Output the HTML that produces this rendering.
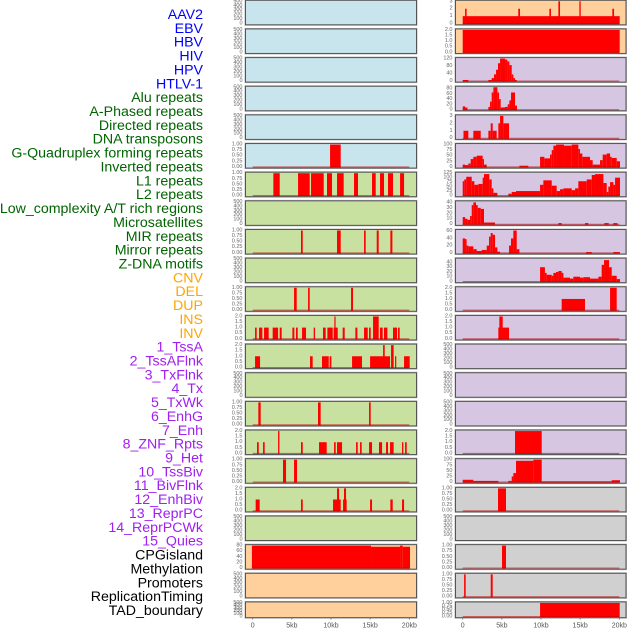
<!DOCTYPE html>
<html><head><meta charset="utf-8"><style>
html,body{margin:0;padding:0;background:#fff;width:630px;height:630px;overflow:hidden}
svg{display:block;font-family:"Liberation Sans",sans-serif}
</style></head><body>
<svg id="chart" width="630" height="630" viewBox="0 0 630 630"></svg>
<script>
// ---- data (segments: [startKb, endKb, value]) ----
const labelNames = ["AAV2","EBV","HBV","HIV","HPV","HTLV-1","Alu repeats","A-Phased repeats","Directed repeats","DNA transposons","G-Quadruplex forming repeats","Inverted repeats","L1 repeats","L2 repeats","Low_complexity A/T rich regions","Microsatellites","MIR repeats","Mirror repeats","Z-DNA motifs","CNV","DEL","DUP","INS","INV","1_TssA","2_TssAFlnk","3_TxFlnk","4_Tx","5_TxWk","6_EnhG","7_Enh","8_ZNF_Rpts","9_Het","10_TssBiv","11_BivFlnk","12_EnhBiv","13_ReprPC","14_ReprPCWk","15_Quies","CPGisland","Methylation","Promoters","ReplicationTiming","TAD_boundary"];
const labelGroups = [0,0,0,0,0,0,1,1,1,1,1,1,1,1,1,1,1,1,1,2,2,2,2,2,3,3,3,3,3,3,3,3,3,3,3,3,3,3,3,4,4,4,4,4];
const xTickValues = [0,5,10,15,20];
const xTickLabels = ["0","5kb","10kb","15kb","20kb"];

const segHTLV1 = [[9.88,11.24,1]];
const segAlu = [[2.64,3.45,1],[5.79,7.28,1],[7.45,9.07,1],[9.49,10.13,1],[10.77,11.62,1],[12.94,13.45,1],[15.24,15.71,1],[16.26,16.77,1],[17.28,17.92,1],[18.82,19.33,1]];
const segDirected = [[6.17,6.39,1],[10.77,11.24,1],[14.22,14.43,1],[15.84,16.09,1],[17.58,17.84,1]];
const segGQuad = [[5.28,5.62,1],[7.07,7.28,1],[12.56,12.81,1]];
const segInverted = [[0.3,0.51,1],[0.81,1.23,1],[1.45,2.04,1],[2.55,3.24,1],[3.45,3.7,1],[5.07,5.32,1],[5.53,5.75,1],[6.3,6.81,1],[7.79,7.96,1],[8.98,9.32,1],[9.54,10.22,1],[10.34,10.86,1],[10.43,10.56,2],[11.49,11.75,1],[13.11,13.37,1],[14.22,14.69,1],[14.86,15.07,1],[15.37,16.09,2],[16.26,16.6,1],[16.77,17.2,1],[17.92,18.43,1],[18.56,18.77,1]];
const segL1 = [[0.3,0.94,1],[7.32,7.66,1],[8.85,9.71,1],[9.83,10.05,1],[12.69,13.96,1],[14.99,17.54,1],[16.65,16.86,2],[17.67,18.0,2],[18.18,18.26,1],[19.33,20.05,1]];
const segLowComplex = [[0.72,1.02,1],[8.34,8.68,1],[14.86,15.07,1]];
const segMicrosat = [[0.55,0.77,1],[1.32,1.53,1],[3.24,3.41,2],[6.17,6.39,1],[8.47,9.45,1],[10.39,10.6,1],[10.77,11.41,1],[13.2,13.41,1],[13.71,13.92,1],[14.86,15.24,1],[16.13,16.52,1],[17.03,17.28,1],[17.54,18.0,1],[19.07,19.24,1],[19.46,19.67,1]];
const segMIR = [[3.87,4.26,1],[5.28,5.66,1]];
const segMirror = [[0.38,0.89,1],[6.17,6.39,1],[10.26,11.24,1],[10.77,11.03,2],[11.66,11.92,2],[11.54,12.0,1],[14.99,15.24,1],[17.58,17.88,1],[19.07,19.33,1]];
const segCNV = [[-0.1,15.11,80],[15.11,18.82,76],[18.82,19.16,80],[19.16,20.09,76]];
const segINS = [[0,20.05,1],[0.3,0.5,2],[7.1,7.32,2],[11.07,11.28,2],[12.22,12.43,3],[14.9,15.07,3],[19.11,19.33,2]];
const segINV = [[0,20.05,2]];
const segTssA = [[0,0.72,5],[3.28,3.7,5],[3.7,4.0,15],[4.0,4.26,35],[4.26,4.51,60],[4.51,4.77,95],[4.77,5.41,120],[5.41,5.7,115],[5.7,5.96,105],[5.96,6.26,85],[6.26,6.47,35],[6.47,6.68,15],[6.68,6.9,5]];
const segTssAFlnk = [[0,0.3,12],[0.3,0.6,8],[3.28,3.49,10],[3.49,3.7,30],[3.7,3.92,65],[3.92,4.43,85],[4.43,4.64,65],[4.64,4.85,40],[4.85,5.41,8],[5.41,5.75,10],[5.75,5.96,20],[5.96,6.17,35],[6.17,6.68,65],[6.68,6.94,15]];
const segTxFlnk = [[0.1,0.72,1],[1.36,2.3,1],[3.28,3.58,1],[3.58,3.83,2],[3.83,4.34,1],[4.55,4.77,2],[4.77,5.19,3],[5.19,5.92,2]];
const segTx = [[0,0.3,10],[0.3,0.72,8],[0.72,1.02,15],[1.02,1.36,35],[1.36,1.79,45],[1.79,2.55,50],[2.55,2.72,35],[2.72,3.07,10],[7.24,8.39,5],[9.88,10.43,45],[10.43,11.15,38],[11.15,11.37,55],[11.37,11.58,75],[11.58,11.92,95],[11.92,12.94,100],[12.94,13.92,95],[13.92,14.77,100],[14.77,14.98,80],[14.98,15.28,60],[15.28,16.26,45],[16.26,16.6,30],[16.6,17.54,10],[17.54,17.88,30],[17.88,18.39,55],[18.39,18.82,60],[18.82,19.03,45],[19.03,19.67,40],[19.67,20.09,25]];
const segTxWk = [[0,0.2,80],[0.2,0.45,90],[0.45,1.15,105],[1.15,1.49,80],[1.49,2.0,60],[2.0,2.55,65],[2.55,2.72,100],[2.72,3.4,120],[3.4,3.7,90],[3.7,3.92,40],[3.92,4.43,15],[5.83,6.26,10],[6.26,6.81,20],[6.81,9.88,25],[9.88,10.3,60],[10.3,11.37,85],[11.37,12.0,55],[12.0,12.43,25],[12.43,12.86,35],[12.86,13.92,40],[13.92,14.35,30],[14.35,14.77,40],[14.77,15.84,80],[15.84,16.48,90],[16.48,16.9,115],[16.9,17.97,120],[17.97,18.39,70],[18.39,18.6,20],[18.6,18.82,50],[18.82,19.24,75],[19.24,19.46,60],[19.46,20.09,100]];
const segEnhG = [[0,0.3,13],[0.3,0.6,10],[0.6,0.94,8],[0.94,1.15,15],[1.15,1.36,35],[1.36,1.7,40],[1.7,1.92,35],[1.92,2.3,30],[2.3,2.72,28],[2.72,4.13,3],[12.22,12.64,2],[15.62,16.05,2],[18.09,18.65,2],[19.24,19.75,2]];
const segEnh = [[0,0.3,40],[0.3,0.5,38],[0.5,0.72,20],[0.72,1.36,18],[1.36,1.79,10],[1.79,2.43,5],[2.43,3.07,8],[3.07,3.36,20],[3.36,3.58,45],[3.58,3.83,55],[3.83,4.13,50],[4.13,4.43,15],[4.43,4.77,3],[5.92,6.17,20],[6.17,6.47,40],[6.47,6.9,62],[6.9,7.24,10],[15.75,16.48,2],[19.24,20.09,2]];
const segZNF = [[9.88,10.5,30],[10.5,10.73,18],[10.73,11.37,14],[11.37,11.58,12],[11.58,11.92,18],[11.92,12.22,20],[12.22,12.64,22],[12.64,12.86,18],[12.86,13.7,8],[13.7,14.13,6],[14.13,14.98,10],[14.98,15.41,8],[15.41,16.26,9],[16.26,17.33,6],[17.33,17.75,10],[17.75,18.05,35],[18.05,18.69,45],[18.69,19.03,30],[19.03,19.67,12],[19.67,20.09,5]];
const segHet = [[12.64,15.62,1],[18.82,19.67,2]];
const segTssBiv = [[4.55,5.92,1],[4.68,5.11,2]];
const segReprPCWk = [[6.68,10.09,2]];
const segQuies = [[0,1.36,10],[1.36,4.55,5],[5.83,6.26,5],[6.26,6.47,25],[6.47,6.81,40],[6.81,9.02,95],[9.02,10.09,100],[10.09,19.03,3],[19.03,20.09,8]];
const segCPG = [[4.51,5.53,1]];
const segPromoters = [[5.02,5.53,1]];
const segRepTiming = [[0.18,0.38,1],[3.58,3.83,1]];
const segTAD = [[9.88,20.05,1]];

// tick sets
const ticksEmpty = [0,100,200,300,400,500];
const ticks1 = [0,0.25,0.5,0.75,1];
const ticks2 = [0,0.5,1,1.5,2];
const ticks3 = [0,1,2,3];

const leftTracks = [
 ["aav2",null,500,ticksEmpty,0],["ebv",null,500,ticksEmpty,0],["hbv",null,500,ticksEmpty,0],["hiv",null,500,ticksEmpty,0],["hpv",null,500,ticksEmpty,0],["htlv-1",segHTLV1,1,ticks1,0],
 ["alu",segAlu,1,ticks1,1],["a-phased",null,500,ticksEmpty,1],["directed",segDirected,1,ticks1,1],["dna-transposons",null,500,ticksEmpty,1],["g-quadruplex",segGQuad,1,ticks1,1],["inverted",segInverted,2,ticks2,1],["l1",segL1,2,ticks2,1],["l2",null,500,ticksEmpty,1],["low-complexity",segLowComplex,1,ticks1,1],["microsatellites",segMicrosat,2,ticks2,1],["mir",segMIR,1,ticks1,1],["mirror",segMirror,2,ticks2,1],["z-dna",null,500,ticksEmpty,1],
 ["cnv",segCNV,80,[0,20,40,60,80],2],["del",null,500,ticksEmpty,2],["dup",null,500,ticksEmpty,2]];
const rightTracks = [
 ["ins",segINS,3,ticks3,2],["inv",segINV,2,ticks2,2],
 ["tssa",segTssA,120,[0,40,80,120],3],["tssaflnk",segTssAFlnk,85,[0,20,40,60,80],3],["txflnk",segTxFlnk,3,ticks3,3],["tx",segTx,100,[0,25,50,75,100],3],["txwk",segTxWk,125,[0,25,50,75,100,125],3],["enhg",segEnhG,41,[0,10,20,30,40],3],["enh",segEnh,62,[0,20,40,60],3],["znf-rpts",segZNF,47,[0,10,20,30,40],3],["het",segHet,2,ticks2,3],["tssbiv",segTssBiv,2,ticks2,3],["bivflnk",null,500,ticksEmpty,3],["enhbiv",null,500,ticksEmpty,3],["reprpc",null,500,ticksEmpty,3],["reprpcwk",segReprPCWk,2,ticks2,3],["quies",segQuies,100,[0,25,50,75,100],3],
 ["cpgisland",segCPG,1,ticks1,4],["methylation",null,500,ticksEmpty,4],["promoters",segPromoters,1,ticks1,4],["replication-timing",segRepTiming,1,ticks1,4],["tad-boundary",segTAD,1,ticks1,4]];

// ---- styling ----
const labelColors = ["#0000ff","#006400","#ffa500","#a020f0","#000000"];
const panelColors = ["#c8e4ec","#c8e0a0","#ffd09c","#d6c6e2","#d0d0d0"];
const NS = "http://www.w3.org/2000/svg";
const svg = document.getElementById("chart");
function mk(tag, attrs, parent){const e=document.createElementNS(NS,tag);for(const k in attrs)e.setAttribute(k,attrs[k]);(parent||svg).appendChild(e);return e;}
const ROW_PITCH = 28.65, ROW_H = 24.5, LAST_H = 15.7;
const cols = [{x0:245.5,x1:416.5,z:252.7},{x0:455.5,x1:626,z:462.7}];
const KB = 7.83;
function xScale(col,kb){return cols[col].z + kb*KB;}
function fmt(t,ticks){const mx=ticks[ticks.length-1];if(mx===1)return t.toFixed(2);if(mx===2)return t.toFixed(1);return String(t);}

labelNames.forEach((name,i)=>{
  const t = mk("text",{x:203,y:15+i*13.86,"text-anchor":"end","dominant-baseline":"central","font-size":"14.2",fill:labelColors[labelGroups[i]]});
  t.textContent = name;
  
  
});

function drawPanel(col,row,tr){
  const [name,segs,ymax,ticks,grp] = tr;
  const top = 0.3 + row*ROW_PITCH;
  const h = row===21 ? LAST_H : ROW_H;
  const bottom = top + h - 1.2;
  const c = cols[col];
  const g = mk("g",{});
  
  
  mk("rect",{x:c.x0-0.5,y:top-0.5,width:c.x1-c.x0+1,height:h+1,fill:"none",stroke:"#bbb","stroke-width":1},g);
  mk("rect",{x:c.x0,y:top,width:c.x1-c.x0,height:h,fill:panelColors[grp]},g);
  const yS = v => bottom - (v/ymax)*(h-2.2);
  if(segs){
    segs.forEach(s=>{
      const x1=xScale(col,s[0]), x2=xScale(col,s[1]);
      const y=Math.max(top,yS(s[2]));
      const r = mk("rect",{x:x1,y:y,width:Math.max(1.2,x2-x1),height:bottom-y+0.6,fill:"#ff0000"},g);
      
      
    });
    mk("line",{x1:xScale(col,0),x2:xScale(col,20),y1:bottom+0.2,y2:bottom+0.2,stroke:"rgba(190,0,0,0.55)","stroke-width":1.3},g);
  }
  mk("rect",{x:c.x0,y:top,width:c.x1-c.x0,height:h,fill:"none",stroke:"#555","stroke-width":1},g);
  ticks.forEach(t=>{
    const tx = mk("text",{x:c.x0-3,y:yS(t),"text-anchor":"end","dominant-baseline":"central","font-size":"5.5",fill:"#666"},g);
    tx.textContent = fmt(t,ticks);
    
    
  });
}
leftTracks.forEach((tr,i)=>drawPanel(0,i,tr));
rightTracks.forEach((tr,i)=>drawPanel(1,i,tr));

[0,1].forEach(col=>{
  xTickValues.forEach((v,i)=>{
    const x = xScale(col,v);
    mk("line",{x1:x,x2:x,y1:617.5,y2:619.5,stroke:"#666","stroke-width":0.8});
    const t = mk("text",{x:x,y:626,"text-anchor":"middle","dominant-baseline":"central","font-size":"7",fill:"#555"});
    t.textContent = xTickLabels[i];
    
    
  });
});
</script>
</body></html>
